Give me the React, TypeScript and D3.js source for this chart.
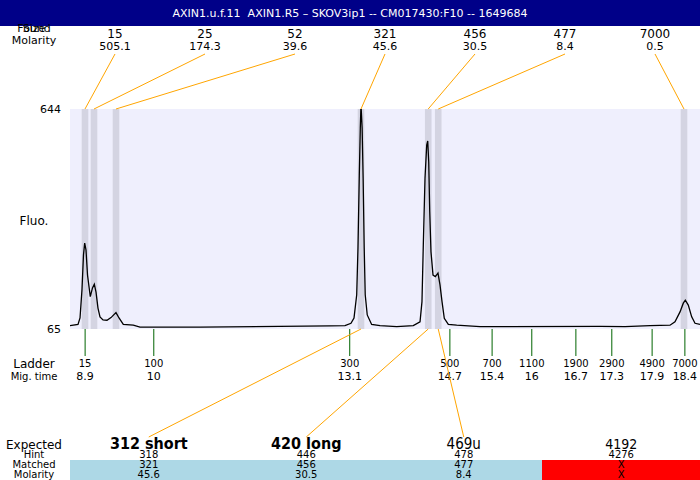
import { useEffect, useRef } from "react";
import * as d3 from "d3";

const title = "AXIN1.u.f.11  AXIN1.R5 – SKOV3ip1 -- CM017430:F10 -- 1649684";

// found peaks
const peakSizes = ["15", "25", "52", "321", "456", "477", "7000"];
const peakMolarity = ["505.1", "174.3", "39.6", "45.6", "30.5", "8.4", "0.5"];
const peakTimes = [8.898, 9.041, 9.39, 13.279, 14.346, 14.505, 18.406];

// ladder
const ladderSizes = ["15", "100", "300", "500", "700", "1100", "1900", "2900", "4900", "7000"];
const ladderTimes = [8.9, 9.99, 13.1, 14.69, 15.36, 15.99, 16.69, 17.26, 17.9, 18.42];

// expected / matched table
const expectedLabels = ["312 short", "420 long", "469u", "4192"];
const expectedHints = ["318", "446", "478", "4276"];
const matchedSizes = ["321", "456", "477", "X"];
const matchedMolarity = ["45.6", "30.5", "8.4", "X"];
const matchedPeak = [3, 4, 5, -1];

// fluorescence trace
const traceTime = [
  8.66, 8.787, 8.819, 8.85, 8.874, 8.893, 8.914, 8.938, 8.982, 9.017, 9.046, 9.073, 9.104,
  9.136, 9.184, 9.247, 9.311, 9.39, 9.438, 9.506, 9.665, 9.771, 10.724, 12.787, 13.025,
  13.12, 13.168, 13.211, 13.231, 13.252, 13.268, 13.279, 13.297, 13.313, 13.33, 13.346,
  13.378, 13.448, 13.581, 13.846, 14.109, 14.216, 14.247, 14.268, 14.295, 14.322, 14.338,
  14.354, 14.37, 14.39, 14.422, 14.459, 14.501, 14.533, 14.565, 14.601, 14.665, 14.798,
  15.168, 17.073, 17.47, 17.866, 18.184, 18.263, 18.343, 18.395, 18.427, 18.474, 18.528,
  18.581, 18.66,
];
const traceFluo = [
  74, 77, 94, 168, 260, 291, 273, 207, 150, 173, 183, 162, 120,
  97, 89, 88, 95, 108, 94, 77, 75, 70, 70, 73, 74,
  80, 94, 155, 278, 470, 594, 655, 594, 462, 278, 155,
  102, 77, 74, 71, 74, 84, 137, 286, 462, 549, 560,
  505, 374, 268, 207, 203, 212, 181, 137, 93, 77, 75,
  71, 72, 71, 74, 75, 84, 110, 133, 141, 128, 97,
  80, 77,
];

const expectedFont = [
  { size: 16, weight: "bold" },
  { size: 16, weight: "bold" },
  { size: 15, weight: "normal" },
  { size: 14, weight: "normal" },
];

const fmtTime = (t: number) => String(+t.toFixed(1));

const App = () => {
  const ref = useRef<SVGSVGElement>(null);

  useEffect(() => {
    const width = 700;
    const plot = { left: 70, right: 700, top: 109, bottom: 329 };

    const svg = d3.select(ref.current);
    svg.selectAll("*").remove();
    svg.attr("font-family", "DejaVu Sans, sans-serif");

    const x = d3.scaleLinear().domain([8.66, 18.66]).range([plot.left, plot.right]);
    const y = d3.scaleLinear().domain([65, 644]).range([plot.bottom, plot.top]);
    const labelCol = d3
      .scaleBand<number>()
      .domain(d3.range(peakSizes.length))
      .range([plot.left, plot.right]);
    const tableCol = d3
      .scaleBand<number>()
      .domain(d3.range(expectedLabels.length))
      .range([plot.left, plot.right]);

    // header
    svg.append("rect").attr("width", width).attr("height", 26).attr("fill", "#000088");
    svg
      .append("text")
      .attr("x", width / 2)
      .attr("y", 17)
      .attr("text-anchor", "middle")
      .attr("fill", "white")
      .attr("font-size", 11)
      .style("white-space", "pre")
      .text(title);

    // left labels
    const leftLabel = (txt: string, yy: number, size: number) =>
      svg
        .append("text")
        .attr("x", 34)
        .attr("y", yy)
        .attr("text-anchor", "middle")
        .attr("font-size", size)
        .text(txt);
    leftLabel("Found", 32, 11);
    leftLabel("Size", 32, 11);
    leftLabel("Molarity", 44, 11);
    leftLabel("Fluo.", 225, 12);
    leftLabel("Ladder", 368, 12);
    leftLabel("Mig. time", 380, 10);
    leftLabel("Expected", 449, 12);
    leftLabel("Hint", 458, 10);
    leftLabel("Matched", 468, 10);
    leftLabel("Molarity", 477.5, 10);

    // plot background
    svg
      .append("rect")
      .attr("x", plot.left)
      .attr("y", plot.top)
      .attr("width", plot.right - plot.left)
      .attr("height", plot.bottom - plot.top)
      .attr("fill", "#efeffd");

    // peak bands
    svg
      .selectAll(".band")
      .data(peakTimes)
      .enter()
      .append("rect")
      .attr("x", (d) => x(d) - 3.3)
      .attr("y", plot.top)
      .attr("width", 6.6)
      .attr("height", plot.bottom - plot.top)
      .attr("fill", "#d4d4e2");

    // y labels
    y.domain().forEach((v) => {
      svg
        .append("text")
        .attr("x", 61)
        .attr("y", y(v) + 4)
        .attr("text-anchor", "end")
        .attr("font-size", 11)
        .text(v);
    });

    // trace
    svg
      .append("clipPath")
      .attr("id", "plotclip")
      .append("rect")
      .attr("x", plot.left)
      .attr("y", plot.top)
      .attr("width", plot.right - plot.left)
      .attr("height", plot.bottom - plot.top);
    const line = d3
      .line<number>()
      .x((d) => x(d))
      .y((_, i) => y(traceFluo[i]));
    svg
      .append("path")
      .attr("d", line(traceTime))
      .attr("clip-path", "url(#plotclip)")
      .attr("fill", "none")
      .attr("stroke", "black")
      .attr("stroke-width", 1.3);

    // peak labels and leaders
    peakSizes.forEach((s, i) => {
      const cx = labelCol(i)! + labelCol.bandwidth() / 2;
      svg
        .append("line")
        .attr("x1", cx)
        .attr("y1", 54)
        .attr("x2", x(peakTimes[i]))
        .attr("y2", plot.top)
        .attr("stroke", "orange")
        .attr("stroke-width", 1);
      svg
        .append("text")
        .attr("x", cx)
        .attr("y", 38)
        .attr("text-anchor", "middle")
        .attr("font-size", 12)
        .text(s);
      svg
        .append("text")
        .attr("x", cx)
        .attr("y", 50)
        .attr("text-anchor", "middle")
        .attr("font-size", 11)
        .text(peakMolarity[i]);
    });

    // ladder
    ladderTimes.forEach((t, i) => {
      svg
        .append("line")
        .attr("x1", x(t))
        .attr("x2", x(t))
        .attr("y1", plot.bottom)
        .attr("y2", 356)
        .attr("stroke", "#006400")
        .attr("stroke-width", 1);
      svg
        .append("text")
        .attr("x", x(t))
        .attr("y", 367)
        .attr("text-anchor", "middle")
        .attr("font-size", 10)
        .text(ladderSizes[i]);
      svg
        .append("text")
        .attr("x", x(t))
        .attr("y", 380)
        .attr("text-anchor", "middle")
        .attr("font-size", 11)
        .text(fmtTime(t));
    });

    // table
    expectedLabels.forEach((lab, i) => {
      const x0 = tableCol(i)!;
      const cx = x0 + tableCol.bandwidth() / 2;
      const p = matchedPeak[i];
      svg
        .append("rect")
        .attr("x", Math.floor(x0))
        .attr("y", 460)
        .attr("width", Math.ceil(tableCol.bandwidth()) + 1)
        .attr("height", 20)
        .attr("shape-rendering", "crispEdges")
        .attr("fill", p >= 0 ? "#add8e6" : "red");
      if (p >= 0) {
        svg
          .append("line")
          .attr("x1", x(peakTimes[p]))
          .attr("y1", plot.bottom)
          .attr("x2", cx)
          .attr("y2", 437)
          .attr("stroke", "orange")
          .attr("stroke-width", 1);
      }
      svg
        .append("text")
        .attr("x", cx)
        .attr("y", 449)
        .attr("text-anchor", "middle")
        .attr("font-family", "DejaVu Sans Condensed, DejaVu Sans, sans-serif")
        .attr("font-size", expectedFont[i].size)
        .attr("font-weight", expectedFont[i].weight)
        .text(lab);
      [expectedHints[i], matchedSizes[i], matchedMolarity[i]].forEach((v, j) => {
        svg
          .append("text")
          .attr("x", cx)
          .attr("y", 458 + j * 10)
          .attr("text-anchor", "middle")
          .attr("font-size", 10)
          .text(v);
      });
    });
  }, []);

  return (
    <svg
      ref={ref}
      width={700}
      height={480}
      style={{ position: "absolute", left: 0, top: 0, display: "block" }}
    />
  );
};

export default App;
